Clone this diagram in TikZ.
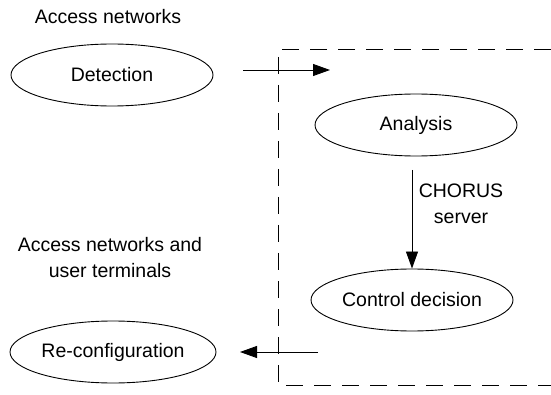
\documentclass[tikz,border=0pt]{standalone}
\usepackage{fontspec}
\setmainfont{Liberation Sans}
\usetikzlibrary{shapes.geometric,arrows.meta}
\begin{document}
\begin{tikzpicture}[x=1pt,y=-1pt,
  oval/.style={draw, line width=0.9pt, ellipse, inner sep=0pt, minimum width=202pt, minimum height=62pt, font=\fontsize{19.5}{22}\selectfont},
  lbl/.style={font=\fontsize{19.5}{26}\selectfont, align=center, inner sep=0pt},
  arr/.style={line width=0.9pt, -{Triangle[length=17pt,width=12pt]}},
  box/.style={line width=1pt, dash pattern=on 17pt off 11pt}]
\useasboundingbox (0,0) rectangle (551,395);
\fill[white] (0,0) rectangle (551,395);
\node[lbl] (an) at (108,17) {Access networks};
\node[oval] (det) at (112,75) {Detection};
\node[oval] (ana) at (416,125) {Analysis};
\node[oval] (ctl) at (412,300) {Control decision};
\node[oval, minimum width=206pt] (rec) at (113,352) {Re-configuration};
\node[lbl] (ant) at (110,258) {Access networks and\\user terminals};
\node[lbl] (srv) at (461,204) {CHORUS\\server};
\coordinate (a1) at (243,70);
\coordinate (c1) at (330,70);
\coordinate (c2) at (318,352);
\coordinate (c4) at (240,352);
\coordinate (c3) at (412,170);
\coordinate (d1) at (551,50);
\coordinate (d2) at (278,50);
\coordinate (d3) at (278,385);
\coordinate (d4) at (551,385);
\draw[box] (d1) -- (d2) -- (d3) -- (d4);
\draw[arr] (a1) -- (c1);
\draw[arr] (c2) -- (c4);
\draw[arr] (c3) -- (c3 |- ctl.north);
\end{tikzpicture}
\end{document}
